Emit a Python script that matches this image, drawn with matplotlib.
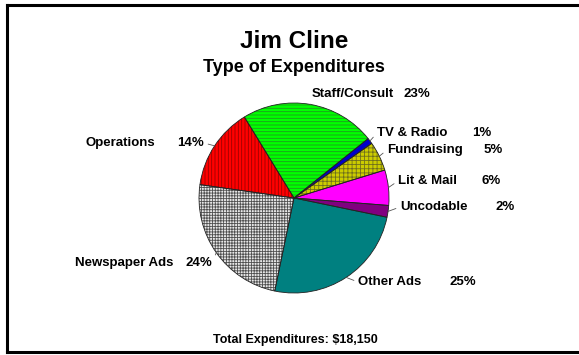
import matplotlib
matplotlib.use("Agg")
import matplotlib.pyplot as plt
import numpy as np
from matplotlib.lines import Line2D
from matplotlib.patches import Wedge

plt.rcParams['font.family'] = ['Liberation Sans', 'DejaVu Sans']
plt.rcParams['font.weight'] = 'bold'
plt.rcParams['hatch.linewidth'] = 0.6

W, H = 579, 355

categories = ["Staff/Consult", "TV & Radio", "Fundraising", "Lit & Mail",
              "Uncodable", "Other Ads", "Newspaper Ads", "Operations"]
shares = [23, 1, 5, 6, 2, 25, 24, 14]
pct_labels = ["23%", "1%", "5%", "6%", "2%", "25%", "24%", "14%"]

face = ["#00ff00", "#0000cc", "#cccc00", "#ff00ff", "#800080", "#008080", "#e8e8e8", "#ff0000"]
hatch_col = ["#1f9a1f", "#0000cc", "#70701c", "#ff00ff", "#800080", "#008080", "#505050", "#9a0000"]
hatches = ["-----", None, "++++", None, None, None, "++++++", "|||||"]

# label layout in pixels from the top-left: (text x, y, percent x, side)
label_pos = [(312, 94, 404, "r"), (377, 133, 472, "r"), (387, 150, 484, "r"),
             (398, 181, 482, "r"), (400, 207, 495, "r"), (358, 282, 449, "r"),
             (75, 263, 212, "l"), (86, 143, 204, "l")]


def px(x, y):
    return x / W, 1 - y / H


fig = plt.figure(figsize=(W / 100, H / 100), dpi=100)
cx, cy, r = 294, 198, 95
ax = fig.add_axes([(cx - r) / W, (H - cy - r) / H, 2 * r / W, 2 * r / H])

wedges, _ = ax.pie(shares, startangle=121.5, counterclock=False, radius=1,
                   colors=face, wedgeprops=dict(linewidth=0))
ax.set_xlim(-1, 1)
ax.set_ylim(-1, 1)
ax.set_aspect("equal")
ax.axis("off")

for w, hc, h in zip(wedges, hatch_col, hatches):
    if h:
        w.set_hatch(h)
        w.set_edgecolor(hc)
    # thin dark outline on top of the hatched fill
    ax.add_patch(Wedge(w.center, w.r, w.theta1, w.theta2, fill=False,
                       edgecolor="#222222", linewidth=0.6, clip_on=False))
    w.set_clip_on(False)

for w, name, pct, (tx, ty, pxx, side) in zip(wedges, categories, pct_labels, label_pos):
    mid = np.deg2rad((w.theta1 + w.theta2) / 2)
    edge = (np.cos(mid), np.sin(mid))
    if side == "r":
        ax.annotate(name, xy=edge, xytext=px(tx, ty), textcoords="figure fraction",
                    ha="left", va="center", fontsize=9.5,
                    arrowprops=dict(arrowstyle="-", lw=0.6, color="#555555",
                                    shrinkA=1, shrinkB=0, relpos=(0, 0.5)))
        fig.text(*px(pxx, ty), pct, ha="left", va="center", fontsize=9.5)
    else:
        ax.annotate(pct, xy=edge, xytext=px(pxx, ty), textcoords="figure fraction",
                    ha="right", va="center", fontsize=9.5,
                    arrowprops=dict(arrowstyle="-", lw=0.6, color="#555555",
                                    shrinkA=1, shrinkB=0, relpos=(1, 0.5)))
        fig.text(*px(tx, ty), name, ha="left", va="center", fontsize=9.5)

fig.text(*px(294, 42), "Jim Cline", ha="center", va="center", fontsize=17.5)
fig.text(*px(294, 67), "Type of Expenditures", ha="center", va="center", fontsize=13)
fig.text(*px(295, 340), "Total Expenditures: $18,150", ha="center", va="center", fontsize=9)

# frame around the chart area; the right side runs off the image
for xs, ys in [((7, 7), (5, 352)), ((7, W + 5), (5, 5)), ((7, W + 5), (352, 352))]:
    fig.lines.append(Line2D([x / W for x in xs], [1 - y / H for y in ys],
                            transform=fig.transFigure, color="black", linewidth=2.2))

fig.savefig("out.png", dpi=100, facecolor="white")
